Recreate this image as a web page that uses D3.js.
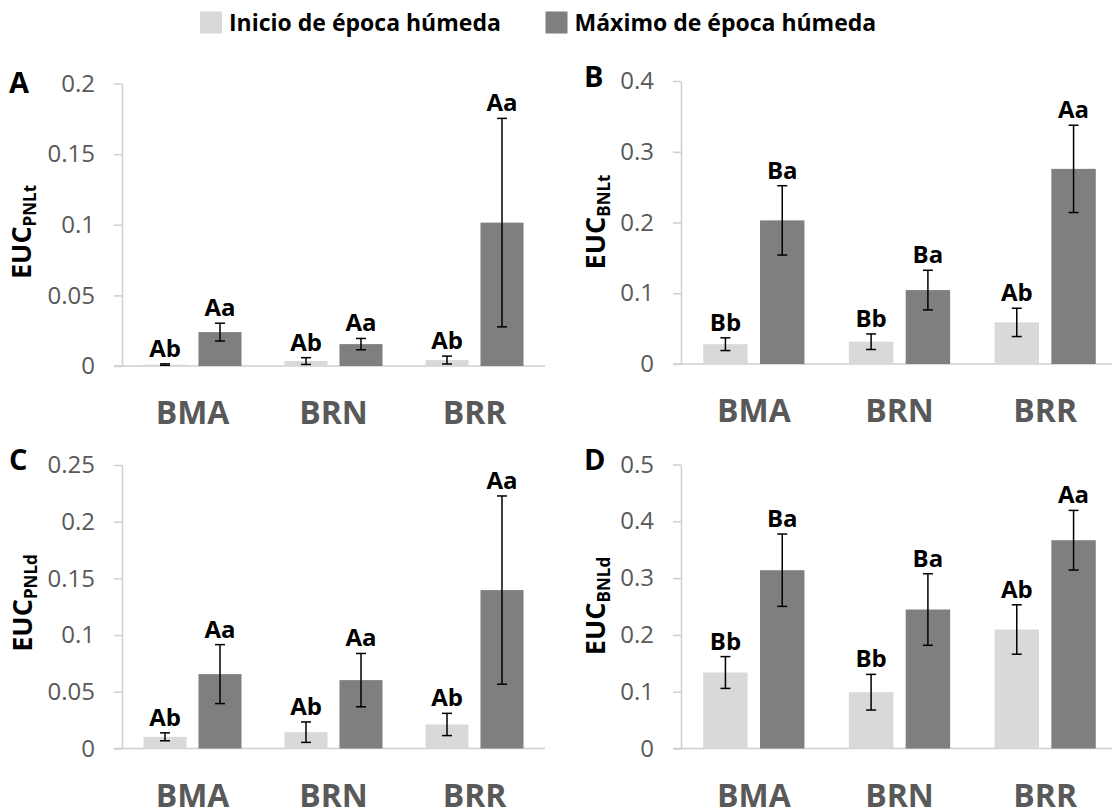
<!DOCTYPE html>
<html lang="es">
<head>
    <meta charset="UTF-8">
    <title>EUC por sitio</title>
    <script src="https://d3js.org/d3.v7.min.js"></script>
    <style>
        body { margin: 0; background: #fff; }
        text { font-family: "Open Sans", sans-serif; }
    </style>
</head>
<body>
    <div id="my_dataviz"></div>
    <script>
        // data
        var categories = ["BMA", "BRN", "BRR"];
        var seriesNames = ["Inicio de época húmeda", "Máximo de época húmeda"];

        var inicioA = [0.001, 0.0035, 0.0042];
        var inicioErrA = [0.0005, 0.0024, 0.0028];
        var maximoA = [0.024, 0.0155, 0.1015];
        var maximoErrA = [0.0063, 0.004, 0.0738];
        var inicioLetrasA = ["Ab", "Ab", "Ab"];
        var maximoLetrasA = ["Aa", "Aa", "Aa"];

        var inicioB = [0.028, 0.0315, 0.0588];
        var inicioErrB = [0.009, 0.011, 0.02];
        var maximoB = [0.203, 0.1045, 0.2758];
        var maximoErrB = [0.049, 0.028, 0.0617];
        var inicioLetrasB = ["Bb", "Bb", "Ab"];
        var maximoLetrasB = ["Ba", "Ba", "Aa"];

        var inicioC = [0.0103, 0.0144, 0.0212];
        var inicioErrC = [0.0035, 0.009, 0.0098];
        var maximoC = [0.0656, 0.0603, 0.1397];
        var maximoErrC = [0.026, 0.0235, 0.083];
        var inicioLetrasC = ["Ab", "Ab", "Ab"];
        var maximoLetrasC = ["Aa", "Aa", "Aa"];

        var inicioD = [0.1338, 0.0991, 0.2095];
        var inicioErrD = [0.028, 0.0314, 0.0435];
        var maximoD = [0.3139, 0.2447, 0.3667];
        var maximoErrD = [0.0637, 0.063, 0.0525];
        var inicioLetrasD = ["Bb", "Bb", "Ab"];
        var maximoLetrasD = ["Ba", "Ba", "Aa"];

        var yMax = { A: 0.2, B: 0.4, C: 0.25, D: 0.5 };
        var yStep = { A: 0.05, B: 0.1, C: 0.05, D: 0.1 };
        var subs = { A: "PNLt", B: "BNLt", C: "PNLd", D: "BNLd" };

        var colors = ["#d9d9d9", "#7f7f7f"];
        var axisColor = "#cfcfcf";
        var tickColor = "#595959";

        var svg = d3.select("#my_dataviz")
            .append("svg")
            .attr("width", 1112)
            .attr("height", 812);

        svg.append("rect").attr("width", 1112).attr("height", 812).attr("fill", "#fff");

        // legend
        var legendX = [200, 545.5];
        seriesNames.forEach(function(name, i) {
            svg.append("rect")
                .attr("x", legendX[i]).attr("y", 11.5)
                .attr("width", 22).attr("height", 22)
                .attr("fill", colors[i]);
            svg.append("text")
                .attr("x", legendX[i] + 29).attr("y", 31)
                .attr("font-size", "23px").attr("font-weight", "bold")
                .attr("fill", "#000")
                .text(name);
        });

        var panels = [
            { id: "A", x0: 122, x1: 545, top: 83.5, zero: 366, letter: [9, 93], title: [31, 232],
              s: [inicioA, maximoA], e: [inicioErrA, maximoErrA], l: [inicioLetrasA, maximoLetrasA] },
            { id: "B", x0: 681, x1: 1118, top: 81, zero: 364, letter: [584, 87], title: [605, 222],
              s: [inicioB, maximoB], e: [inicioErrB, maximoErrB], l: [inicioLetrasB, maximoLetrasB] },
            { id: "C", x0: 122, x1: 545, top: 465, zero: 748.5, letter: [9, 470], title: [32, 603],
              s: [inicioC, maximoC], e: [inicioErrC, maximoErrC], l: [inicioLetrasC, maximoLetrasC] },
            { id: "D", x0: 681, x1: 1118, top: 464.5, zero: 748.5, letter: [584, 470], title: [605, 606],
              s: [inicioD, maximoD], e: [inicioErrD, maximoErrD], l: [inicioLetrasD, maximoLetrasD] }
        ];

        panels.forEach(function(p) {
            var g = svg.append("g");

            var x = d3.scaleBand().domain(categories).range([p.x0, p.x1]);
            var y = d3.scaleLinear().domain([0, yMax[p.id]]).range([p.zero, p.top]);
            var bw = x.bandwidth();
            var barW = bw * 0.305, gap = bw * 0.085;

            // y axis
            var yAxis = d3.axisLeft(y)
                .tickValues(d3.range(0, yMax[p.id] + yStep[p.id] / 2, yStep[p.id]))
                .tickFormat(function(d) { return String(+d.toFixed(2)); })
                .tickSize(8)
                .tickSizeOuter(0)
                .tickPadding(19);

            var ag = g.append("g")
                .attr("transform", "translate(" + p.x0 + ",0)")
                .call(yAxis);
            ag.select(".domain").attr("stroke", axisColor).attr("stroke-width", 1.5);
            ag.selectAll(".tick line").attr("stroke", axisColor).attr("stroke-width", 1.5);
            ag.selectAll(".tick text")
                .attr("fill", tickColor)
                .attr("font-size", "24px")
                .attr("font-family", "Open Sans, sans-serif");

            // x axis line
            g.append("line")
                .attr("x1", p.x0 - 8).attr("x2", p.x1)
                .attr("y1", y(0)).attr("y2", y(0))
                .attr("stroke", axisColor).attr("stroke-width", 1.5);

            // bars, error bars, letters
            [0, 1].forEach(function(si) {
                var xs = function(i) {
                    var c = x(categories[i]) + bw / 2;
                    return si === 0 ? c - gap / 2 - barW : c + gap / 2;
                };
                var idx = d3.range(categories.length);

                g.selectAll(".bar" + si)
                    .data(idx)
                    .enter()
                    .append("rect")
                    .attr("x", function(i) { return xs(i); })
                    .attr("y", function(i) { return y(p.s[si][i]); })
                    .attr("width", barW)
                    .attr("height", function(i) { return y(0) - y(p.s[si][i]); })
                    .attr("fill", colors[si]);

                idx.forEach(function(i) {
                    var cx = xs(i) + barW / 2;
                    var hi = y(p.s[si][i] + p.e[si][i]);
                    var lo = y(p.s[si][i] - p.e[si][i]);
                    g.append("line")
                        .attr("x1", cx).attr("x2", cx).attr("y1", hi).attr("y2", lo)
                        .attr("stroke", "#000").attr("stroke-width", 1.5);
                    [hi, lo].forEach(function(yy) {
                        g.append("line")
                            .attr("x1", cx - 5).attr("x2", cx + 5).attr("y1", yy).attr("y2", yy)
                            .attr("stroke", "#000").attr("stroke-width", 1.5);
                    });
                    g.append("text")
                        .attr("x", cx).attr("y", hi - 7)
                        .attr("text-anchor", "middle")
                        .attr("font-size", "24px").attr("font-weight", "bold")
                        .attr("fill", "#000")
                        .text(p.l[si][i]);
                });
            });

            // category labels (the bottom row is clipped by the page edge, as in the original)
            g.selectAll(".cat")
                .data(categories)
                .enter()
                .append("text")
                .attr("x", function(d) { return x(d) + bw / 2; })
                .attr("y", y(0) + 58)
                .attr("text-anchor", "middle")
                .attr("font-size", "32px").attr("font-weight", "bold")
                .attr("fill", tickColor)
                .text(function(d) { return d; });

            // panel letter
            g.append("text")
                .attr("x", p.letter[0]).attr("y", p.letter[1])
                .attr("font-size", "29px").attr("font-weight", "bold")
                .attr("fill", "#000")
                .text(p.id);

            // y title with subscript
            var t = g.append("text")
                .attr("transform", "translate(" + p.title[0] + "," + p.title[1] + ") rotate(-90)")
                .attr("text-anchor", "middle")
                .attr("font-size", "27px").attr("font-weight", "bold")
                .attr("fill", "#000");
            t.append("tspan").text("EUC");
            t.append("tspan").attr("font-size", "17px").attr("dy", 5).text(subs[p.id]);
        });
    </script>
</body>
</html>
